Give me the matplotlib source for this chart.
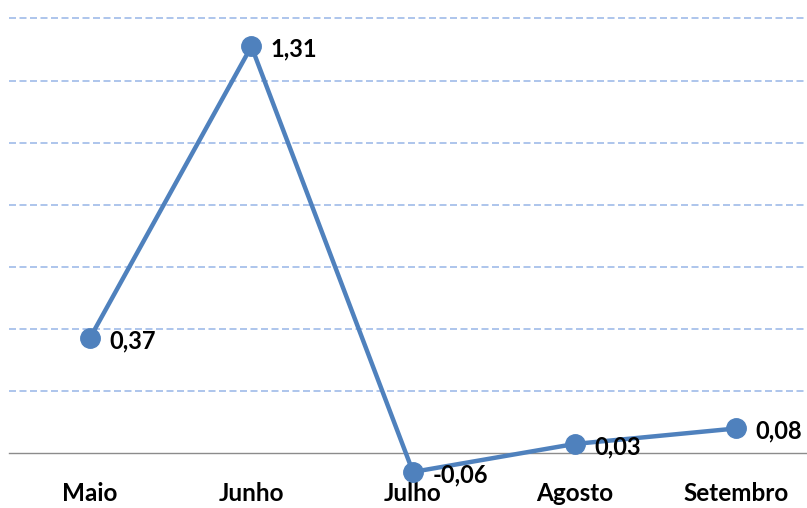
import matplotlib
matplotlib.use("Agg")
import matplotlib.pyplot as plt

months = ["Maio", "Junho", "Julho", "Agosto", "Setembro"]
values = [0.37, 1.31, -0.06, 0.03, 0.08]
value_labels = ["0,37", "1,31", "-0,06", "0,03", "0,08"]
grid_levels = [0.2, 0.4, 0.6, 0.8, 1.0, 1.2, 1.4]

W, H = 807, 508
fig = plt.figure(figsize=(W / 100, H / 100), dpi=100)
zero_px = 453.3
ax = fig.add_axes([9 / W, (H - zero_px) / H, 808 / W, zero_px / H])
ax.set_xlim(-0.5, 4.5)
ax.set_ylim(0, 1.4 + 18.3 / 309)

font = "Lato"
color = "#4F81BD"

for g in grid_levels:
    ax.axhline(g, color="#ADC5EC", lw=1.4, linestyle=(0, (3.6, 1.8)), zorder=1)

x = list(range(len(months)))
ax.plot(x, values, color=color, lw=3.2, marker="o", markersize=14,
        clip_on=False, zorder=3)

for xi, v, lab in zip(x, values, value_labels):
    ax.annotate(lab, (xi, v), xytext=(14, -2), textcoords="offset points",
                ha="left", va="center", fontsize=17, fontweight="bold",
                family=font, color="black", zorder=4, annotation_clip=False)

for s in ["top", "right", "left"]:
    ax.spines[s].set_visible(False)
ax.spines["bottom"].set_color("#8C8C8C")
ax.spines["bottom"].set_linewidth(1.0)
ax.spines["bottom"].set_zorder(2)
ax.set_yticks([])
ax.set_xticks(x)
ax.set_xticklabels(months, fontsize=17.5, fontweight="bold", family=font)
ax.tick_params(axis="x", length=0, pad=20.5)

fig.savefig("out.png", dpi=100)
